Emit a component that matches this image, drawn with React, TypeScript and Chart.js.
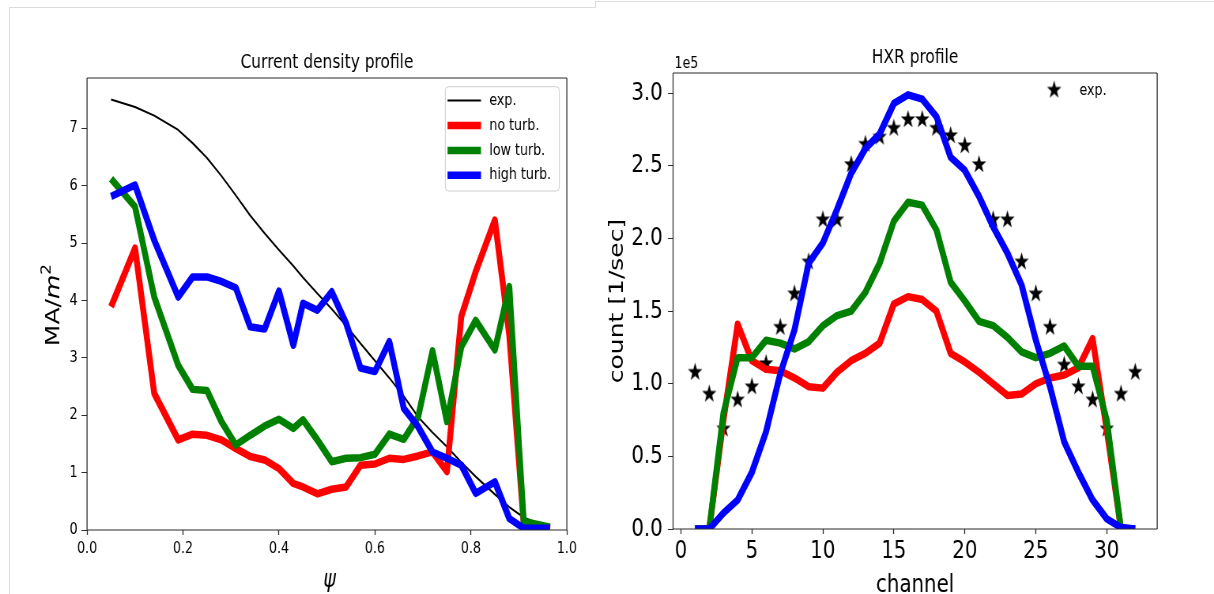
import React, { useEffect, useRef } from "react";
import { Chart, registerables } from "chart.js";

Chart.register(...registerables);

// horizontal squeeze of the whole figure (the reference is compressed horizontally)
const SX = 0.79;
const FONT = "'DejaVu Sans', 'Noto Sans', sans-serif";
const H = 594;
const LEFT_W = 754; // logical canvas widths
const RIGHT_W = 782;

// ---------------- Left panel: current density profile ----------------
const leftTitle = "Current density profile";
const leftXLabel = "ψ";
const leftLegend = ["exp.", "no turb.", "low turb.", "high turb."];
const psi = [0.05, 0.10, 0.14, 0.19, 0.22, 0.25, 0.28, 0.31, 0.34, 0.37, 0.40, 0.43, 0.45, 0.48, 0.51, 0.54, 0.57, 0.60, 0.63, 0.66, 0.69, 0.72, 0.75, 0.78, 0.81, 0.85, 0.88, 0.91, 0.965];
const jExp = [7.50, 7.37, 7.22, 6.97, 6.74, 6.48, 6.17, 5.83, 5.48, 5.17, 4.88, 4.60, 4.40, 4.12, 3.85, 3.56, 3.25, 2.95, 2.65, 2.33, 1.97, 1.70, 1.45, 1.18, 0.93, 0.62, 0.40, 0.22, 0.03];
const jNoTurb = [3.89, 4.91, 2.38, 1.57, 1.67, 1.65, 1.57, 1.42, 1.28, 1.22, 1.07, 0.81, 0.75, 0.63, 0.71, 0.75, 1.13, 1.15, 1.25, 1.23, 1.29, 1.36, 1.02, 3.72, 4.50, 5.40, 3.40, 0.12, 0.02];
const jLowTurb = [6.12, 5.63, 4.06, 2.87, 2.45, 2.43, 1.89, 1.48, 1.65, 1.81, 1.93, 1.77, 1.92, 1.57, 1.19, 1.25, 1.26, 1.32, 1.67, 1.58, 1.97, 3.12, 1.89, 3.19, 3.65, 3.14, 4.24, 0.15, 0.05];
const jHighTurb = [5.81, 6.01, 5.05, 4.06, 4.41, 4.41, 4.33, 4.22, 3.54, 3.50, 4.16, 3.22, 3.95, 3.83, 4.15, 3.60, 2.82, 2.76, 3.28, 2.12, 1.80, 1.36, 1.25, 1.13, 0.64, 0.84, 0.20, 0.03, 0.03];
const psiTicks = [0, 0.2, 0.4, 0.6, 0.8, 1.0];
const jTicks = [0, 1, 2, 3, 4, 5, 6, 7];

// ---------------- Right panel: HXR profile ----------------
const rightTitle = "HXR profile";
const rightXLabel = "channel";
const rightYLabel = "count [1/sec]";
const rightOffsetText = "1e5";
const rightLegend = ["exp."];
const channels = [1, 2, 3, 4, 5, 6, 7, 8, 9, 10, 11, 12, 13, 14, 15, 16, 17, 18, 19, 20, 21, 22, 23, 24, 25, 26, 27, 28, 29, 30, 31, 32];
// values in units of 1e5 counts/sec
const hxrExp = [1.08, 0.93, 0.69, 0.89, 0.98, 1.14, 1.39, 1.62, 1.84, 2.13, 2.13, 2.51, 2.65, 2.70, 2.76, 2.82, 2.82, 2.76, 2.71, 2.64, 2.51, 2.13, 2.13, 1.84, 1.62, 1.39, 1.13, 0.98, 0.89, 0.69, 0.93, 1.08];
const hxrNoTurb = [0, 0, 0.75, 1.41, 1.16, 1.10, 1.09, 1.04, 0.98, 0.97, 1.08, 1.16, 1.21, 1.28, 1.55, 1.60, 1.58, 1.50, 1.21, 1.15, 1.08, 1.00, 0.92, 0.93, 1.00, 1.04, 1.06, 1.11, 1.31, 0.68, 0, 0];
const hxrLowTurb = [0, 0, 0.80, 1.18, 1.18, 1.30, 1.28, 1.24, 1.29, 1.40, 1.47, 1.50, 1.63, 1.83, 2.12, 2.25, 2.23, 2.06, 1.70, 1.57, 1.43, 1.40, 1.32, 1.22, 1.18, 1.21, 1.26, 1.12, 1.12, 0.75, 0, 0];
const hxrHighTurb = [0, 0, 0.11, 0.20, 0.39, 0.67, 1.07, 1.37, 1.83, 1.97, 2.20, 2.45, 2.62, 2.72, 2.93, 2.99, 2.96, 2.84, 2.56, 2.47, 2.29, 2.08, 1.90, 1.68, 1.30, 0.98, 0.60, 0.39, 0.20, 0.07, 0.01, 0];
const channelTicks = [0, 5, 10, 15, 20, 25, 30];
const countTicks = [0, 0.5, 1.0, 1.5, 2.0, 2.5, 3.0];

const RED = "#ff0000";
const GREEN = "#008000";
const BLUE = "#0000ff";
const BLACK = "#000000";

function makeStar(R: number): HTMLCanvasElement {
  const c = document.createElement("canvas");
  const s = Math.ceil(2 * R + 2);
  c.width = s;
  c.height = s;
  const g = c.getContext("2d")!;
  g.translate(s / 2, s / 2);
  g.beginPath();
  for (let i = 0; i < 10; i++) {
    const r = i % 2 === 0 ? R : R * 0.4;
    const a = -Math.PI / 2 + (i * Math.PI) / 5;
    if (i === 0) g.moveTo(r * Math.cos(a), r * Math.sin(a));
    else g.lineTo(r * Math.cos(a), r * Math.sin(a));
  }
  g.closePath();
  g.fillStyle = "#000";
  g.fill();
  return c;
}

function lineDs(label: string, xs: number[], ys: number[], color: string, width: number, order: number) {
  return {
    label,
    data: xs.map((x, i) => ({ x, y: ys[i] })),
    borderColor: color,
    backgroundColor: color,
    borderWidth: width,
    pointRadius: 0,
    pointHoverRadius: 0,
    tension: 0,
    fill: false,
    borderJoinStyle: "round",
    borderCapStyle: "butt",
    order,
  };
}

function drawFrame(ctx: CanvasRenderingContext2D, a: any) {
  ctx.save();
  ctx.strokeStyle = "#2b2b2b";
  ctx.lineWidth = 1;
  ctx.beginPath();
  ctx.moveTo(a.left, a.top);
  ctx.lineTo(a.right, a.top);
  ctx.moveTo(a.left, a.bottom);
  ctx.lineTo(a.right, a.bottom);
  ctx.stroke();
  ctx.lineWidth = 1.3;
  ctx.beginPath();
  ctx.moveTo(a.left, a.top);
  ctx.lineTo(a.left, a.bottom);
  ctx.moveTo(a.right, a.top);
  ctx.lineTo(a.right, a.bottom);
  ctx.stroke();
  ctx.restore();
}

function roundRectPath(ctx: CanvasRenderingContext2D, x: number, y: number, w: number, h: number, r: number) {
  ctx.beginPath();
  ctx.moveTo(x + r, y);
  ctx.lineTo(x + w - r, y);
  ctx.arcTo(x + w, y, x + w, y + r, r);
  ctx.lineTo(x + w, y + h - r);
  ctx.arcTo(x + w, y + h, x + w - r, y + h, r);
  ctx.lineTo(x + r, y + h);
  ctx.arcTo(x, y + h, x, y + h - r, r);
  ctx.lineTo(x, y + r);
  ctx.arcTo(x, y, x + r, y, r);
  ctx.closePath();
}

function tickFont(size: number) {
  return { family: FONT, size };
}

function axisCommon(min: number, max: number, tickVals: number[], fmt: (v: number) => string, fontSize: number, pad: number, tickLen: number, tickW: number, fit: (s: any) => void) {
  return {
    type: "linear",
    min,
    max,
    afterBuildTicks: (s: any) => {
      s.ticks = tickVals.map((v) => ({ value: v }));
    },
    afterFit: fit,
    ticks: {
      callback: (v: any) => fmt(Number(v)),
      font: tickFont(fontSize),
      color: "#000",
      padding: pad,
      autoSkip: false,
      maxRotation: 0,
      minRotation: 0,
    },
    grid: {
      display: true,
      drawOnChartArea: false,
      drawTicks: true,
      tickLength: tickLen,
      tickWidth: tickW,
      tickColor: "#2b2b2b",
    },
    border: { display: false },
  };
}

function leftConfig(): any {
  const plugin = {
    id: "leftDecor",
    afterDraw(chart: any) {
      const ctx: CanvasRenderingContext2D = chart.ctx;
      const a = chart.chartArea;
      drawFrame(ctx, a);
      ctx.save();
      ctx.fillStyle = "#000";
      ctx.textBaseline = "alphabetic";
      // title
      ctx.font = `19.5px ${FONT}`;
      ctx.textAlign = "center";
      ctx.fillText(leftTitle, (a.left + a.right) / 2, a.top - 10.5);
      // x label
      ctx.font = `italic 24px ${FONT}`;
      ctx.fillText(leftXLabel, (a.left + a.right) / 2 + 3.2, 587);
      // y label "MA/m^2" (m italic, 2 superscript)
      const fReg = `25px ${FONT}`;
      const fIt = `italic 25px ${FONT}`;
      const fSup = `17px ${FONT}`;
      ctx.font = fReg;
      const w1 = ctx.measureText("MA/").width;
      ctx.font = fIt;
      const w2 = ctx.measureText("m").width;
      ctx.font = fSup;
      const w3 = ctx.measureText("2").width;
      const total = w1 + w2 + w3;
      ctx.translate(74.7, (a.top + a.bottom) / 2 + 1);
      ctx.rotate(-Math.PI / 2);
      ctx.textAlign = "left";
      let x0 = -total / 2;
      ctx.font = fReg;
      ctx.fillText("MA/", x0, 0);
      x0 += w1;
      ctx.font = fIt;
      ctx.fillText("m", x0, 0);
      x0 += w2;
      ctx.font = fSup;
      ctx.fillText("2", x0, -11);
      ctx.restore();

      // legend
      ctx.save();
      const bx = 563.3, by = 86.7, bw = 144.3, bh = 104.3;
      roundRectPath(ctx, bx, by, bw, bh, 4);
      ctx.fillStyle = "rgba(255,255,255,0.8)";
      ctx.fill();
      ctx.strokeStyle = "#cccccc";
      ctx.lineWidth = 1;
      ctx.stroke();
      const ds = chart.data.datasets;
      ctx.font = `16px ${FONT}`;
      ctx.textAlign = "left";
      ctx.textBaseline = "middle";
      for (let i = 0; i < leftLegend.length; i++) {
        const y = 100.6 + i * 24.9;
        ctx.strokeStyle = ds[i].borderColor;
        ctx.lineWidth = ds[i].borderWidth;
        ctx.lineCap = "butt";
        ctx.beginPath();
        ctx.moveTo(566.2, y);
        ctx.lineTo(608.5, y);
        ctx.stroke();
        ctx.fillStyle = "#000";
        ctx.fillText(leftLegend[i], 619, y);
      }
      ctx.restore();
    },
  };
  return {
    type: "line",
    data: {
      datasets: [
        lineDs(leftLegend[0], psi, jExp, BLACK, 2, 4),
        lineDs(leftLegend[1], psi, jNoTurb, RED, 7.5, 3),
        lineDs(leftLegend[2], psi, jLowTurb, GREEN, 7.5, 2),
        lineDs(leftLegend[3], psi, jHighTurb, BLUE, 7.5, 1),
      ],
    },
    options: {
      animation: false,
      responsive: false,
      devicePixelRatio: 1,
      events: [],
      layout: { autoPadding: false, padding: { left: 50.13, right: 36.9, top: 78, bottom: 24 } },
      plugins: { legend: { display: false }, title: { display: false }, tooltip: { enabled: false } },
      scales: {
        x: axisCommon(0, 1, psiTicks, (v) => v.toFixed(1), 16, 4.5, 5, 1.3, (s: any) => { s.height = 40; }),
        y: axisCommon(0, 7.875, jTicks, (v) => String(v), 16, 5, 7, 1, (s: any) => { s.width = 60; }),
      },
    },
    plugins: [plugin],
  };
}

function rightConfig(star: HTMLCanvasElement): any {
  const plugin = {
    id: "rightDecor",
    afterDraw(chart: any) {
      const ctx: CanvasRenderingContext2D = chart.ctx;
      const a = chart.chartArea;
      drawFrame(ctx, a);
      ctx.save();
      ctx.fillStyle = "#000";
      ctx.textBaseline = "alphabetic";
      ctx.font = `19.5px ${FONT}`;
      ctx.textAlign = "center";
      ctx.fillText(rightTitle, (a.left + a.right) / 2, a.top - 10.5);
      ctx.font = `16px ${FONT}`;
      ctx.textAlign = "left";
      ctx.fillText(rightOffsetText, a.left + 1.7, a.top - 4.7);
      ctx.font = `25px ${FONT}`;
      ctx.textAlign = "center";
      ctx.fillText(rightXLabel, (a.left + a.right) / 2, 592);
      ctx.save();
      ctx.translate(33.9, (a.top + a.bottom) / 2);
      ctx.rotate(-Math.PI / 2);
      ctx.fillText(rightYLabel, 0, 0);
      ctx.restore();
      // legend (no frame)
      ctx.drawImage(star, 579.7 - star.width / 2, 90 - star.height / 2);
      ctx.font = `16px ${FONT}`;
      ctx.textAlign = "left";
      ctx.textBaseline = "middle";
      ctx.fillText(rightLegend[0], 611.8, 90.5);
      ctx.restore();
    },
  };
  const expDs = {
    label: rightLegend[0],
    data: channels.map((x, i) => ({ x, y: hxrExp[i] })),
    showLine: false,
    pointStyle: star,
    pointRadius: 9,
    pointHoverRadius: 9,
    borderColor: BLACK,
    backgroundColor: BLACK,
    order: 5,
  };
  return {
    type: "line",
    data: {
      datasets: [
        expDs,
        lineDs("no turb.", channels, hxrNoTurb, RED, 7.5, 3),
        lineDs("low turb.", channels, hxrLowTurb, GREEN, 7.5, 2),
        lineDs("high turb.", channels, hxrHighTurb, BLUE, 7.5, 1),
      ],
    },
    options: {
      animation: false,
      responsive: false,
      devicePixelRatio: 1,
      events: [],
      layout: { autoPadding: false, padding: { left: 37.5, right: 71.9, top: 73, bottom: 25 } },
      plugins: { legend: { display: false }, title: { display: false }, tooltip: { enabled: false } },
      scales: {
        x: axisCommon(-0.55, 33.55, channelTicks, (v) => String(v), 25, 2, 5, 1.3, (s: any) => { s.height = 40; }),
        y: axisCommon(0, 3.14, countTicks, (v) => v.toFixed(1), 25, 6.8, 6.3, 1, (s: any) => { s.width = 60; }),
      },
    },
    plugins: [plugin],
  };
}

export default function App() {
  const leftRef = useRef<HTMLCanvasElement>(null);
  const rightRef = useRef<HTMLCanvasElement>(null);

  useEffect(() => {
    const star = makeStar(9.5);
    const c1 = new Chart(leftRef.current as HTMLCanvasElement, leftConfig());
    const c2 = new Chart(rightRef.current as HTMLCanvasElement, rightConfig(star));
    return () => {
      c1.destroy();
      c2.destroy();
    };
  }, []);

  const border = "1px solid #dcdcdc";
  return (
    <div style={{ position: "fixed", left: 0, top: 0, width: 1214, height: H, background: "#fff", overflow: "hidden" }}>
      <div style={{ position: "absolute", left: 595, top: 1, width: 640, height: 620, borderTop: border, borderLeft: border, background: "#fff", boxSizing: "border-box" }} />
      <div style={{ position: "absolute", left: 9, top: 7, width: 587, height: 620, borderTop: border, borderLeft: border, background: "#fff", boxSizing: "border-box" }} />
      <canvas
        ref={leftRef}
        width={LEFT_W}
        height={H}
        style={{ position: "absolute", left: 0, top: 0, width: `${LEFT_W * SX}px`, height: `${H}px` }}
      />
      <canvas
        ref={rightRef}
        width={RIGHT_W}
        height={H}
        style={{ position: "absolute", left: 596, top: 0, width: `${RIGHT_W * SX}px`, height: `${H}px` }}
      />
    </div>
  );
}
